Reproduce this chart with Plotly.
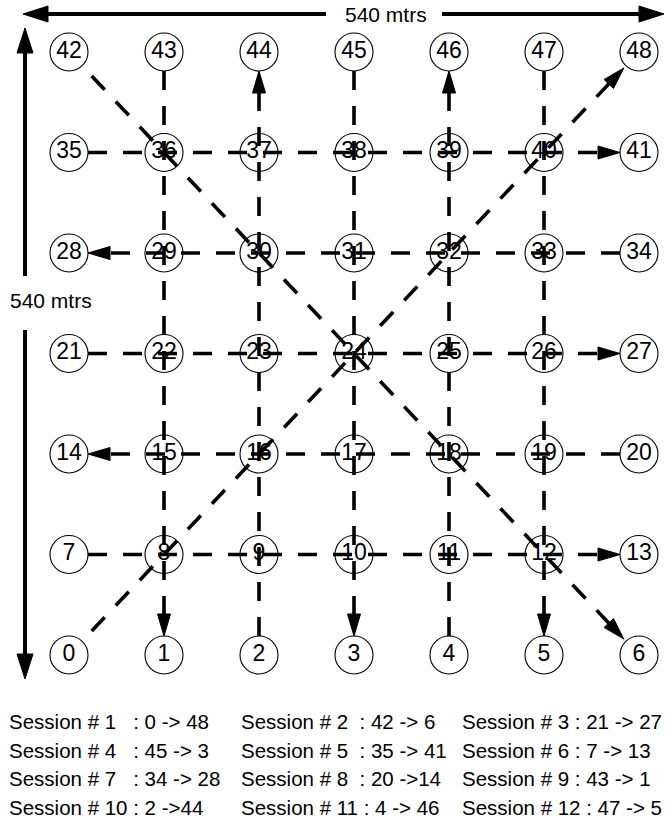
import math
import plotly.graph_objects as go

# ---------------- data ----------------
GRID_N = 7                 # 7 x 7 nodes
FIELD_M = 540              # field side in metres
node_ids = list(range(GRID_N * GRID_N))

session_nums = [1, 2, 3, 4, 5, 6, 7, 8, 9, 10, 11, 12]
session_src = [0, 42, 21, 45, 35, 7, 34, 20, 43, 2, 4, 47]
session_dst = [48, 6, 27, 3, 41, 13, 28, 14, 1, 44, 46, 5]
session_text = ["Session # 1   : 0 -> 48", "Session # 2  : 42 -> 6", "Session # 3 : 21 -> 27",
                "Session # 4   : 45 -> 3", "Session # 5  : 35 -> 41", "Session # 6 : 7 -> 13",
                "Session # 7   : 34 -> 28", "Session # 8  : 20 ->14", "Session # 9 : 43 -> 1",
                "Session # 10 : 2 ->44", "Session # 11 : 4 -> 46", "Session # 12 : 47 -> 5"]
scale_label = "540 mtrs"

# ---------------- layout / style ----------------
W, H = 665, 832
X0_PX, X6_PX = 69, 639      # pixel x of first / last column
Y0_PX, Y6_PX = 655, 52      # pixel y of bottom / top row
FONT = "Liberation Sans, Arial, Helvetica, sans-serif"

SPACING_M = FIELD_M / (GRID_N - 1)
sx = (X6_PX - X0_PX) / FIELD_M
sy = (Y0_PX - Y6_PX) / FIELD_M
x_range = [-X0_PX / sx, (W - X0_PX) / sx]
y_range = [(Y0_PX - H) / sy, Y0_PX / sy]


def to_px(x, y):
    return X0_PX + x * sx, Y0_PX - y * sy


def from_px(px, py):
    return (px - X0_PX) / sx, (Y0_PX - py) / sy


def node_xy(n):
    return (n % GRID_N) * SPACING_M, (n // GRID_N) * SPACING_M


fig = go.Figure()

HEAD_L, HEAD_W = 22, 13
LINE_W = 3.6


def arrow_head(tip, d, L=HEAD_L, Wd=HEAD_W):
    nx, ny = -d[1], d[0]
    bx, by = tip[0] - d[0] * L, tip[1] - d[1] * L
    pts = [tip, (bx + nx * Wd / 2, by + ny * Wd / 2),
           (bx - nx * Wd / 2, by - ny * Wd / 2), tip]
    return [from_px(*p) for p in pts]


for s, a, b in zip(session_nums, session_src, session_dst):
    pa = to_px(*node_xy(a))
    pb = to_px(*node_xy(b))
    dx, dy = pb[0] - pa[0], pb[1] - pa[1]
    dist = math.hypot(dx, dy)
    d = (dx / dist, dy / dist)
    diag = abs(dx) > 1 and abs(dy) > 1
    g0 = 33 if diag else 19
    g1 = 22 if diag else 19
    start = (pa[0] + d[0] * g0, pa[1] + d[1] * g0)
    tip = (pb[0] - d[0] * g1, pb[1] - d[1] * g1)
    end = (tip[0] - d[0] * HEAD_L * 0.8, tip[1] - d[1] * HEAD_L * 0.8)
    (x1, y1), (x2, y2) = from_px(*start), from_px(*end)
    fig.add_trace(go.Scatter(x=[x1, x2], y=[y1, y2], mode="lines",
                             line=dict(color="black", width=LINE_W, dash="19px,16px"),
                             hoverinfo="skip", showlegend=False))
    poly = arrow_head(tip, d)
    fig.add_trace(go.Scatter(x=[p[0] for p in poly], y=[p[1] for p in poly],
                             mode="lines", fill="toself", fillcolor="black",
                             line=dict(color="black", width=1),
                             hoverinfo="skip", showlegend=False))

# nodes
nx_ = [node_xy(n)[0] for n in node_ids]
ny_ = [node_xy(n)[1] for n in node_ids]
fig.add_trace(go.Scatter(
    x=nx_, y=ny_, mode="markers+text", text=[str(n) for n in node_ids],
    textposition="middle center",
    textfont=dict(family=FONT, size=23, color="black"),
    marker=dict(symbol="circle", size=38, color="rgba(0,0,0,0)",
                line=dict(color="black", width=1.1)),
    hoverinfo="skip", showlegend=False))

# scale arrows (pixel-defined decoration)
SC_W = 4


def seg(p, q):
    (x1, y1), (x2, y2) = from_px(*p), from_px(*q)
    fig.add_trace(go.Scatter(x=[x1, x2], y=[y1, y2], mode="lines",
                             line=dict(color="black", width=SC_W),
                             hoverinfo="skip", showlegend=False))


def head(tip, d):
    poly = arrow_head(tip, d, 25, 16)
    fig.add_trace(go.Scatter(x=[p[0] for p in poly], y=[p[1] for p in poly],
                             mode="lines", fill="toself", fillcolor="black",
                             line=dict(color="black", width=1),
                             hoverinfo="skip", showlegend=False))


TOP_Y = 14
seg((40, TOP_Y), (326, TOP_Y))
seg((442, TOP_Y), (645, TOP_Y))
head((23, TOP_Y), (-1, 0))
head((664, TOP_Y), (1, 0))
LEFT_X = 25
seg((LEFT_X, 45), (LEFT_X, 276))
seg((LEFT_X, 330), (LEFT_X, 660))
head((LEFT_X, 28), (0, -1))
head((LEFT_X, 679), (0, 1))

annotations = [
    dict(x=386 / W, y=1 - TOP_Y / H, xref="paper", yref="paper", text=scale_label,
         showarrow=False, font=dict(family=FONT, size=21, color="black"),
         xanchor="center", yanchor="middle"),
    dict(x=8 / W, y=1 - 300 / H, xref="paper", yref="paper", text=scale_label,
         showarrow=False, font=dict(family=FONT, size=21, color="black"),
         xanchor="left", yanchor="middle"),
]

col_x = [7, 239, 460]
row_y = [721, 750, 778.5, 807]
for i, t in enumerate(session_text):
    row, col = i // 3, i % 3
    annotations.append(dict(x=col_x[col] / W, y=1 - row_y[row] / H,
                            xref="paper", yref="paper",
                            text=t.replace(" ", "\u00a0"),
                            showarrow=False, xanchor="left", yanchor="middle",
                            font=dict(family=FONT, size=20.5, color="black")))

fig.update_layout(
    width=W, height=H, autosize=False,
    margin=dict(l=0, r=0, t=0, b=0, pad=0),
    paper_bgcolor="white", plot_bgcolor="white",
    xaxis=dict(range=x_range, visible=False, fixedrange=True),
    yaxis=dict(range=y_range, visible=False, fixedrange=True),
    annotations=annotations,
    showlegend=False,
)

fig.write_html("out.html", config={"displayModeBar": False},
               post_script="document.body.style.margin='0';document.body.style.overflow='hidden';")
